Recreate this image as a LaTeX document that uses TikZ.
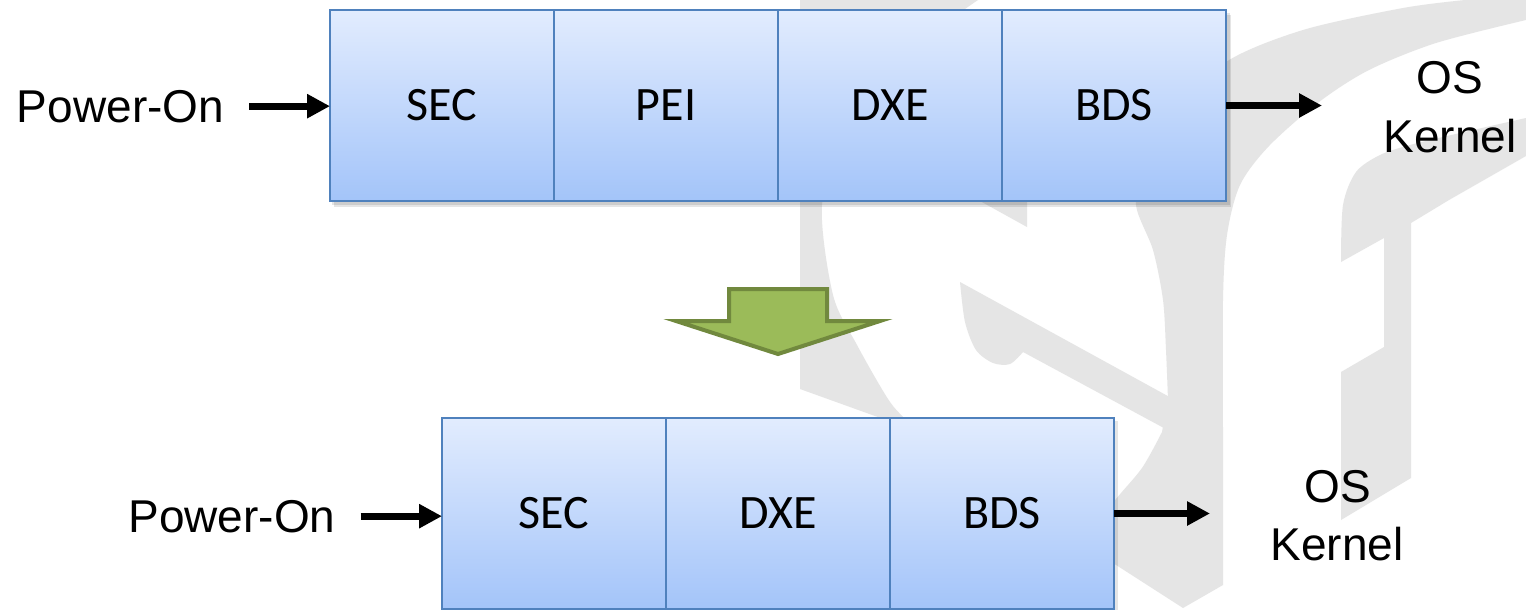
\documentclass[tikz,border=0pt]{standalone}
\usepackage{fontspec}
\setmainfont{Liberation Sans}
\newfontfamily\calibfont{Carlito}
\usetikzlibrary{arrows.meta}

\definecolor{boxline}{RGB}{79,129,189}
\definecolor{boxtop}{RGB}{226,236,254}
\definecolor{boxbot}{RGB}{163,196,249}
\definecolor{arrowgreen}{RGB}{155,187,89}
\definecolor{arrowedge}{RGB}{113,137,62}
\definecolor{wmgray}{RGB}{229,229,229}

\begin{document}
\begin{tikzpicture}[x=1pt,y=-1pt,
  stagebox/.style={draw=boxline, line width=1.5pt, top color=boxtop, bottom color=boxbot,
    minimum width=224pt, minimum height=191pt, inner sep=0pt, outer sep=0pt,
    anchor=north west, font=\calibfont\fontsize{48}{58}\selectfont},
  txt/.style={font=\fontsize{46}{56}\selectfont, inner sep=0pt, anchor=base},
  flow/.style={line width=7pt, -{Triangle[length=23pt,width=23pt]}},
  shade/.style={fill=black, opacity=0.10}]

\useasboundingbox (0,0) rectangle (1526,610);
\fill[white] (0,0) rectangle (1526,610);
\clip (0,0) rectangle (1526,610);

% background emblem strokes
\fill[wmgray] (800,0) -- (978,0) -- plot[smooth] coordinates {(978,0) (905,55) (845,130) (822,205) (833,295) (857,345) (890,402) (912,425)} -- (900,425) -- (800,389) -- cycle;
\fill[wmgray] (980,201) -- (1027,201) -- (1027,227) -- cycle;
\fill[wmgray] (960,282) -- (1175,400) -- (1175,434) -- (1023,352) -- plot[smooth] coordinates {(1023,352) (1010,364) (993,363) (976,350) (965,322) (960,282)} -- cycle;
\fill[wmgray] (1183,608) -- (1223,585) -- (1223,430) -- plot[smooth] coordinates {(1223,430) (1223,300) (1227,235) (1240,185) (1269,146) (1319,102) (1369,70) (1436,43) (1526,20)} -- (1526,0) -- plot[smooth] coordinates {(1465,0) (1403,8) (1303,30) (1226,62) (1175,115) (1145,165) (1136,205) (1153,250) (1163,300) (1166,350) (1168,400)} -- (1162,432) -- plot[smooth] coordinates {(1162,432) (1142,468) (1113,503) (1095,535)} -- (1113,563) -- cycle;
\fill[wmgray] (1411,478) -- (1341,520) -- (1341,372) -- (1384,347) -- (1384,238) -- (1341,262) -- plot[smooth] coordinates {(1341,262) (1343,205) (1356,172) (1380,155) (1410,145) (1460,133) (1526,118)} -- (1526,156) -- (1449,200) -- (1411,223) -- cycle;

% soft shadows under the stage rows
\fill[shade] (332,13) rectangle (1230,205);
\fill[shade] (334,15) rectangle (1231,207);
\fill[shade] (444,421) rectangle (1118,612);

% full boot flow
\node[stagebox] (sec1) at (330,10) {SEC};
\node[stagebox] (pei1) at (554,10) {PEI};
\node[stagebox] (dxe1) at (778,10) {DXE};
\node[stagebox] (bds1) at (1002,10) {BDS};

\node[txt] (pwr1) at (120.5,122) {Power-On};
\node[txt] (os1) at (1450,93) {OS};
\node[txt] (kern1) at (1450,152) {Kernel};
\coordinate (out1) at (1322,105.5);

\draw[flow, shorten <=25pt] (pwr1.east) -- (pwr1.east -| sec1.west);
\draw[flow] (bds1.east) -- (out1);

% reduction arrow
\filldraw[fill=arrowgreen, draw=arrowedge, line width=4pt, line join=miter]
  (729,289) -- (827,289) -- (827,321) -- (880,321) -- (778,354) -- (676,321) -- (729,321) -- cycle;

% reduced boot flow
\node[stagebox] (sec2) at (442,418) {SEC};
\node[stagebox] (dxe2) at (666,418) {DXE};
\node[stagebox] (bds2) at (890,418) {BDS};

\node[txt] (pwr2) at (232,532) {Power-On};
\node[txt] (os2) at (1338,502) {OS};
\node[txt] (kern2) at (1337,560) {Kernel};
\coordinate (out2) at (1210,513.5);

\draw[flow, shorten <=25pt] (pwr2.east) -- (pwr2.east -| sec2.west);
\draw[flow] (bds2.east) -- (out2);
\end{tikzpicture}
\end{document}
